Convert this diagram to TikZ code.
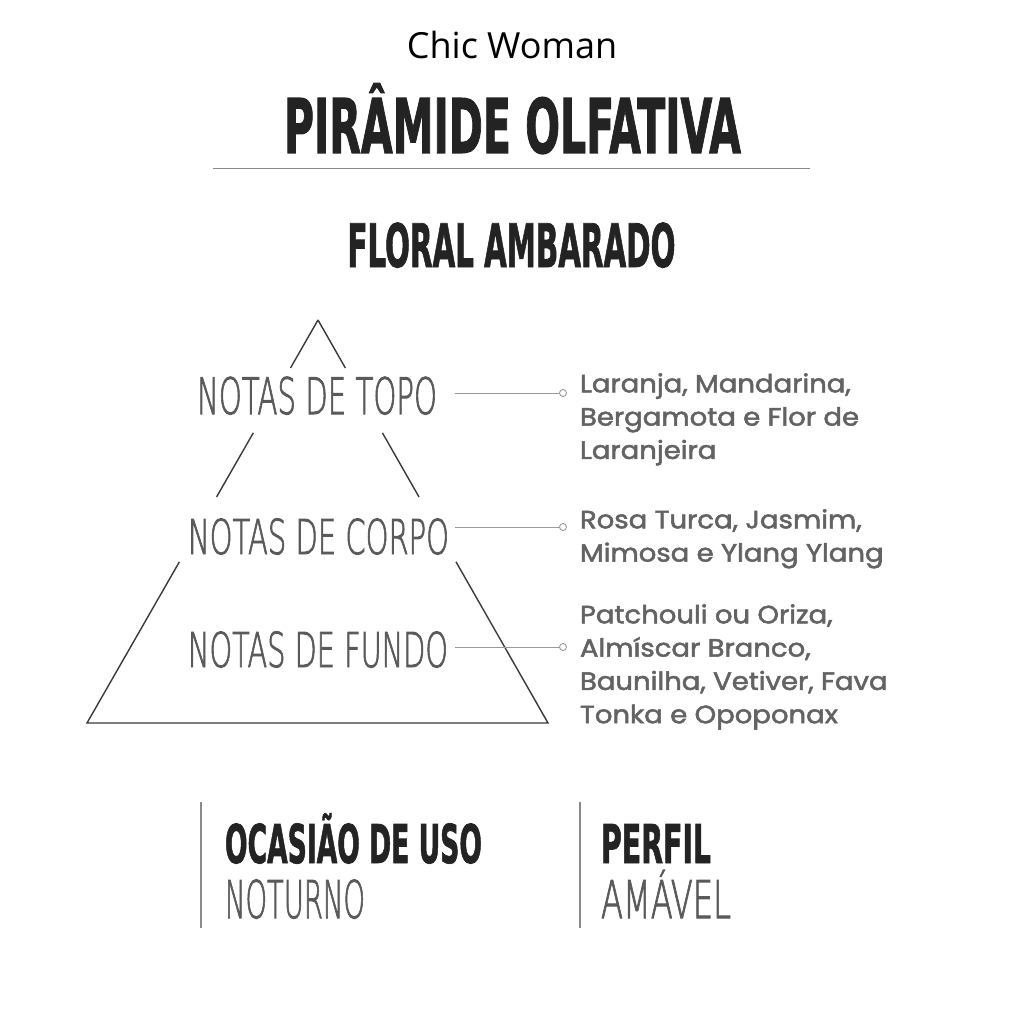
\documentclass[tikz,border=0pt]{standalone}
\usepackage{fontspec}
\usepackage{graphicx}
\usetikzlibrary{calc}
\setmainfont{Open Sans}
\newfontfamily\heavyfont{DejaVu Sans Condensed}[FakeBold=1.5]
\newfontfamily\lightfont{DejaVu Sans ExtraLight}[FakeBold=2]
\newfontfamily\sidefont{Poppins}[FakeBold=2]
\definecolor{heavyc}{HTML}{232323}
\definecolor{lightc}{HTML}{5A5A5A}
\definecolor{sidec}{HTML}{636363}
\definecolor{rulec}{HTML}{8A8A8A}
\definecolor{pyrc}{HTML}{3A3A3A}
\definecolor{connc}{HTML}{9A9A9A}
\newcommand\fitw[2]{\resizebox{#1}{\height}{#2}}
\newcommand\sidelines[1]{\scalebox{1.1}[1]{\sidefont\fontsize{25}{33.3}\selectfont\begin{tabular}{@{}l@{}}#1\end{tabular}}}
\tikzset{
  txt/.style={inner sep=0pt, outer sep=0pt},
  pyr/.style={draw=pyrc, line width=1.4pt},
  conn/.style={draw=connc, line width=1pt},
  enddot/.style={circle, draw=connc, fill=white, line width=0.9pt, minimum size=7pt, inner sep=0pt},
  sidetxt/.style={txt, anchor=north west, text=sidec},
  sep/.style={draw=rulec, line width=1.6pt}
}
\begin{document}
\begin{tikzpicture}[x=1pt,y=-1pt]
\useasboundingbox[fill=white] (0,0) rectangle (1024,1024);

% header
\node[txt, anchor=base] (chic) at (512,59) {\fontsize{36}{36}\selectfont Chic Woman};
\node[txt, anchor=base, text=heavyc] (title) at (512.5,153)
  {\fitw{457pt}{\heavyfont\bfseries\fontsize{75.4}{75.4}\selectfont PIRÂMIDE OLFATIVA}};
\coordinate (rl) at (213,168.5);
\coordinate (rr) at (810,168.5);
\draw[sep] (rl) -- (rr);
\node[txt, anchor=base, text=heavyc] (family) at (511.5,267)
  {\fitw{328pt}{\heavyfont\bfseries\fontsize{60}{60}\selectfont FLORAL AMBARADO}};

% pyramid
\coordinate (A) at (318,320);
\coordinate (L) at (87,723);
\coordinate (R) at (548,723);
\draw[pyr] (A) -- ($(A)!0.119!(L)$);
\draw[pyr] (A) -- ($(A)!0.119!(R)$);
\draw[pyr] ($(A)!0.280!(L)$) -- ($(A)!0.439!(L)$);
\draw[pyr] ($(A)!0.280!(R)$) -- ($(A)!0.439!(R)$);
\draw[pyr] ($(A)!0.600!(L)$) -- (L) -- (R) -- ($(A)!0.600!(R)$);

\node[txt, anchor=base, text=lightc] (topo) at (317,414)
  {\fitw{240pt}{\lightfont\fontsize{50.3}{50.3}\selectfont NOTAS DE TOPO}};
\node[txt, anchor=base, text=lightc] (corpo) at (318.5,554)
  {\fitw{261pt}{\lightfont\fontsize{48}{48}\selectfont NOTAS DE CORPO}};
\node[txt, anchor=base, text=lightc] (fundo) at (318,667)
  {\fitw{260pt}{\lightfont\fontsize{48}{48}\selectfont NOTAS DE FUNDO}};

% connectors
\coordinate (s1) at (455,393);
\coordinate (s2) at (455,527);
\coordinate (s3) at (455,647);
\node[enddot] (d1) at (563,393) {};
\node[enddot] (d2) at (563,527) {};
\node[enddot] (d3) at (563,647) {};
\draw[conn] (s1) -- (d1);
\draw[conn] (s2) -- (d2);
\draw[conn] (s3) -- (d3);

\node[sidetxt] (n1) at (580,369) {\sidelines{Laranja, Mandarina,\\Bergamota e Flor de\\Laranjeira}};
\node[sidetxt] (n2) at (580,505) {\sidelines{Rosa Turca, Jasmim,\\Mimosa e Ylang Ylang}};
\node[sidetxt] (n3) at (580,600) {\sidelines{Patchouli ou Oriza,\\Almíscar Branco,\\Baunilha, Vetiver, Fava\\Tonka e Opoponax}};

% footer
\coordinate (v1t) at (201,802);
\coordinate (v1b) at (201,928);
\coordinate (v2t) at (580,802);
\coordinate (v2b) at (580,928);
\draw[sep] (v1t) -- (v1b);
\draw[sep] (v2t) -- (v2b);
\node[txt, anchor=base west, text=heavyc] (ocasiao) at (225,863)
  {\fitw{257pt}{\heavyfont\bfseries\fontsize{53.5}{53.5}\selectfont OCASIÃO DE USO}};
\node[txt, anchor=base west, text=lightc] (noturno) at (225,918)
  {\fitw{140pt}{\lightfont\fontsize{52}{52}\selectfont NOTURNO}};
\node[txt, anchor=base west, text=heavyc] (perfil) at (601,863)
  {\fitw{110pt}{\heavyfont\bfseries\fontsize{53.5}{53.5}\selectfont PERFIL}};
\node[txt, anchor=base west, text=lightc] (amavel) at (601,918)
  {\fitw{130pt}{\lightfont\fontsize{52}{52}\selectfont AMÁVEL}};
\end{tikzpicture}
\end{document}
